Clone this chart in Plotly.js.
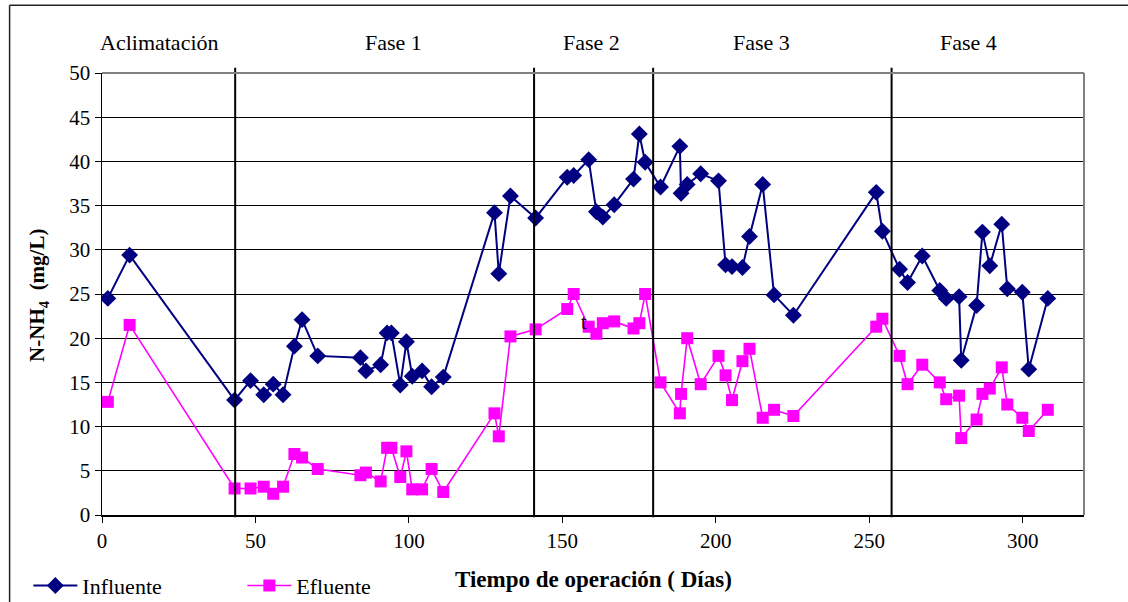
<!DOCTYPE html>
<html>
<head>
<meta charset="utf-8">
<script src="https://cdn.plot.ly/plotly-3.0.1.min.js"></script>
<style>
html,body{margin:0;padding:0;background:#fff;}
#chart{width:1128px;height:602px;}
</style>
</head>
<body>
<div id="chart"></div>
<script>
// Días de operación (common to both series)
const dias = [
  1.9, 9.0, 43.2, 48.4, 52.7, 55.8, 59.0, 62.7, 65.2, 70.3,
  84.2, 86.0, 90.8, 92.9, 94.3, 97.2, 99.2, 101.1, 104.3, 107.4,
  111.2, 127.9, 129.3, 133.1, 141.3, 151.6, 153.7, 158.6, 161.1, 163.2,
  166.9, 173.2, 175.1, 177.0, 182.0, 188.3, 188.7, 190.7, 195.1, 200.9,
  203.2, 205.3, 208.7, 211.0, 215.3, 219.0, 225.3, 252.3, 254.3, 259.9,
  262.5, 267.3, 273.0, 275.1, 279.3, 280.0, 285.0, 286.9, 289.3, 293.2,
  295.0, 299.9, 302.0, 308.2
];
const influente = [
  24.5, 29.4, 13.0, 15.2, 13.6, 14.8, 13.6, 19.1, 22.1, 18.0,
  17.8, 16.3, 17.0, 20.6, 20.6, 14.7, 19.6, 15.7, 16.3, 14.5,
  15.6, 34.2, 27.3, 36.1, 33.6, 38.2, 38.4, 40.2, 34.3, 33.7,
  35.1, 38.0, 43.1, 39.9, 37.1, 41.7, 36.4, 37.4, 38.6, 37.8,
  28.3, 28.1, 28.0, 31.5, 37.4, 24.9, 22.6, 36.5, 32.1, 27.8,
  26.3, 29.3, 25.4, 24.5, 24.7, 17.5, 23.7, 32.0, 28.2, 32.9,
  25.6, 25.2, 16.5, 24.5
];
const efluente = [
  12.8, 21.5, 3.0, 3.0, 3.2, 2.4, 3.2, 6.9, 6.5, 5.2,
  4.5, 4.8, 3.8, 7.6, 7.6, 4.3, 7.2, 2.9, 2.9, 5.2,
  2.6, 11.5, 8.9, 20.2, 21.0, 23.3, 25.0, 21.3, 20.5, 21.7,
  21.9, 21.1, 21.7, 25.0, 15.0, 11.5, 13.7, 20.0, 14.8, 18.0,
  15.8, 13.0, 17.4, 18.8, 11.0, 11.9, 11.2, 21.3, 22.2, 18.0,
  14.8, 17.0, 15.0, 13.1, 13.5, 8.7, 10.8, 13.7, 14.3, 16.7,
  12.5, 11.0, 9.5, 11.9
];
// Phase boundaries and labels
const limitesFase = [43.4, 140.8, 179.6, 257.3];
const etiquetasFase = ["Aclimatación", "Fase 1", "Fase 2", "Fase 3", "Fase 4"];
const posicionEtiquetas = [18.7, 95.0, 159.5, 215.0, 282.3];
const xTicks = [0, 50, 100, 150, 200, 250, 300];
const yTicks = [0, 5, 10, 15, 20, 25, 30, 35, 40, 45, 50];

const FONT = "'Liberation Serif', serif";

const traces = [
  {
    x: dias, y: influente, name: "Influente", type: "scatter", mode: "lines+markers",
    line: {color: "#000080", width: 2},
    marker: {symbol: "diamond", size: 13, color: "#000080"}
  },
  {
    x: dias, y: efluente, name: "Efluente", type: "scatter", mode: "lines+markers",
    line: {color: "#FF00FF", width: 1.6},
    marker: {symbol: "square", size: 12, color: "#FF00FF"}
  }
];

const shapes = limitesFase.map(v => ({
  type: "line", xref: "x", yref: "paper", x0: v, x1: v, y0: -0.005, y1: 1.012,
  line: {color: "#000", width: 2}
}));
// plot-area top / right border (grey)
shapes.push({type: "line", xref: "paper", yref: "paper", x0: 0, x1: 1, y0: 1, y1: 1, line: {color: "#808080", width: 2}});
shapes.push({type: "line", xref: "paper", yref: "paper", x0: 1, x1: 1, y0: 0, y1: 1, line: {color: "#808080", width: 2}});
// outer chart frame
shapes.push({type: "line", xref: "paper", yref: "paper", x0: -0.0941, x1: -0.0941, y0: -0.3, y1: 1.153, line: {color: "#222", width: 1.5}});
shapes.push({type: "line", xref: "paper", yref: "paper", x0: -0.0941, x1: 1.1, y0: 1.153, y1: 1.153, line: {color: "#222", width: 1.5}});

const annotations = etiquetasFase.map((t, i) => ({
  text: t, x: posicionEtiquetas[i], xref: "x", y: 1.07, yref: "paper",
  showarrow: false, xanchor: "center", yanchor: "middle",
  font: {family: FONT, size: 22, color: "#000"}
}));
annotations.push({
  text: "<b>N-NH</b><b><sub>4</sub></b><b>  (mg/L)</b>", textangle: -90,
  x: -0.0646, xref: "paper", y: 0.497, yref: "paper", showarrow: false,
  xanchor: "center", yanchor: "middle",
  font: {family: FONT, size: 21, color: "#000"}
});
annotations.push({
  text: "<b>Tiempo de operación ( Días)</b>",
  x: 0.501, xref: "paper", y: -0.145, yref: "paper", showarrow: false,
  xanchor: "center", yanchor: "middle",
  font: {family: FONT, size: 23, color: "#000"}
});
annotations.push({
  text: "t", x: 157, xref: "x", y: 21.8, yref: "y", showarrow: false,
  xanchor: "center", yanchor: "middle",
  font: {family: FONT, size: 20, color: "#000"}
});

const layout = {
  width: 1128, height: 602,
  margin: {l: 101.5, r: 44, t: 72.7, b: 87, pad: 0, autoexpand: false},
  paper_bgcolor: "#fff", plot_bgcolor: "#fff",
  font: {family: FONT, size: 20, color: "#000"},
  showlegend: true,
  legend: {
    orientation: "h", x: -0.075, xanchor: "left", y: -0.16, yanchor: "middle",
    font: {family: FONT, size: 22, color: "#000"},
    itemwidth: 44, entrywidth: 155, bgcolor: "rgba(0,0,0,0)"
  },
  xaxis: {
    range: [0, 320], tickvals: xTicks, ticktext: xTicks.map(String),
    showgrid: false, zeroline: false, showline: true, linecolor: "#000", linewidth: 1.5,
    ticks: "outside", ticklen: 6, tickcolor: "#000", tickwidth: 1, automargin: false,
    tickfont: {family: FONT, size: 21, color: "#000"}, fixedrange: true
  },
  yaxis: {
    range: [0, 50], tickvals: yTicks, ticktext: yTicks.map(String),
    showgrid: true, gridcolor: "#000", gridwidth: 1,
    zeroline: false, showline: true, linecolor: "#000", linewidth: 1.5,
    ticks: "outside", ticklen: 6, tickcolor: "#000", tickwidth: 1, automargin: false,
    tickfont: {family: FONT, size: 21, color: "#000"}, fixedrange: true
  },
  shapes: shapes,
  annotations: annotations
};

Plotly.newPlot("chart", traces, layout, {displayModeBar: false, staticPlot: true});
</script>
</body>
</html>
